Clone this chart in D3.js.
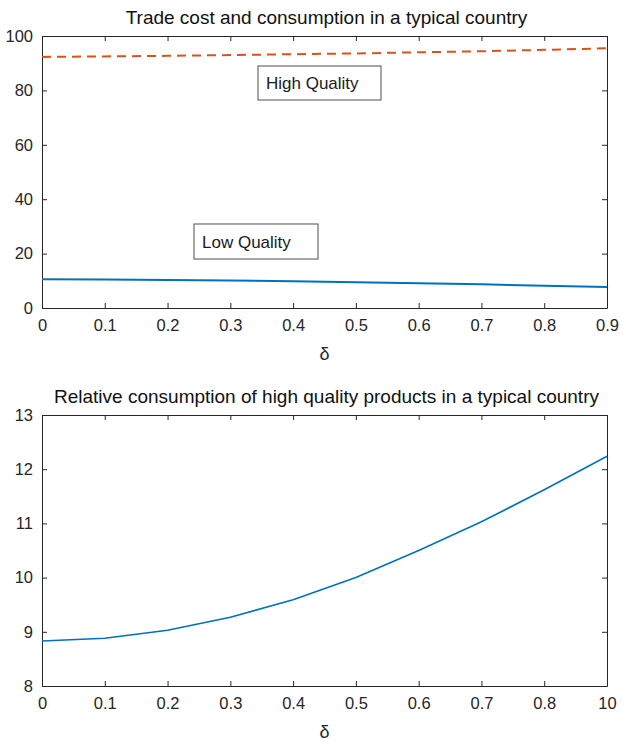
<!DOCTYPE html>
<html><head><meta charset="utf-8">
<script src="https://cdn.jsdelivr.net/npm/d3@7"></script>
<style>body{margin:0;background:#fff;} text{font-family:"Liberation Sans",Arial,sans-serif;}</style>
</head><body><svg id="c" width="626" height="744"></svg>
<script>
const delta = [0,0.1,0.2,0.3,0.4,0.5,0.6,0.7,0.8,0.9];
const highQuality = [92.3,92.5,92.7,93.0,93.3,93.6,94.0,94.4,94.9,95.5];
const lowQuality = [10.6,10.5,10.3,10.1,9.8,9.5,9.1,8.7,8.2,7.7];
const relative = [8.83,8.88,9.03,9.27,9.59,10.0,10.5,11.03,11.62,12.24];
const topYTicks = [0,20,40,60,80,100];
const botYTicks = [8,9,10,11,12,13];
const topXLabels = ["0","0.1","0.2","0.3","0.4","0.5","0.6","0.7","0.8","0.9"];
const botXLabels = ["0","0.1","0.2","0.3","0.4","0.5","0.6","0.7","0.8","10"];

const svg = d3.select("#c");
const axisCol = "#262626";
const L = 42, R = 607;

function panel(top, bottom, yDomain, yTicks, xLabels, title) {
  const x = d3.scaleLinear().domain([0,0.9]).range([L,R]);
  const y = d3.scaleLinear().domain(yDomain).range([bottom,top]);
  const g = svg.append("g");
  const tl = 5;
  const xb = d3.axisBottom(x).tickValues(delta).tickSizeInner(-tl).tickSizeOuter(0)
     .tickPadding(11).tickFormat((d,i)=>xLabels[i]);
  const gx = g.append("g").attr("transform",`translate(0,${bottom})`).call(xb);
  const xt = d3.axisTop(x).tickValues(delta).tickSizeInner(-tl).tickSizeOuter(0).tickFormat("");
  const gxt = g.append("g").attr("transform",`translate(0,${top})`).call(xt);
  const yl = d3.axisLeft(y).tickValues(yTicks).tickSizeInner(-tl).tickSizeOuter(0).tickPadding(9)
     .tickFormat(d3.format("d"));
  const gy = g.append("g").attr("transform",`translate(${L},0)`).call(yl);
  const yr = d3.axisRight(y).tickValues(yTicks).tickSizeInner(-tl).tickSizeOuter(0).tickFormat("");
  const gyr = g.append("g").attr("transform",`translate(${R},0)`).call(yr);
  [gx,gxt,gy,gyr].forEach(a=>{
    a.attr("font-size",null).attr("font-family",null);
    a.selectAll("path").attr("stroke",axisCol).attr("stroke-width",1);
    a.selectAll("line").attr("stroke",axisCol).attr("stroke-width",1);
    a.selectAll("text").attr("fill",axisCol).style("font-size","16.5px");
  });
  g.append("text").attr("x",(L+R)/2+2).attr("y",top-12).attr("text-anchor","middle")
    .style("font-size","19px").attr("fill","#111").text(title);
  g.append("text").attr("x",(L+R)/2).attr("y",bottom+52).attr("text-anchor","middle")
    .style("font-size","18px").attr("fill",axisCol).text("δ");
  return {g,x,y};
}

const p1 = panel(36, 308, [0,100], topYTicks, topXLabels, "Trade cost and consumption in a typical country");
const line1 = d3.line().x((d,i)=>p1.x(delta[i])).y(d=>p1.y(d));
p1.g.append("path").datum(highQuality).attr("d",line1).attr("fill","none")
  .attr("stroke","#D95319").attr("stroke-width",2).attr("stroke-dasharray","9,6");
p1.g.append("path").datum(lowQuality).attr("d",line1).attr("fill","none")
  .attr("stroke","#0072BD").attr("stroke-width",2);

function label(g, x0, y0, w, h, txt) {
  g.append("rect").attr("x",x0).attr("y",y0).attr("width",w).attr("height",h)
    .attr("fill","#fff").attr("stroke","#6b6b6b").attr("stroke-width",1.2);
  g.append("text").attr("x",x0+8).attr("y",y0+h/2+6).style("font-size","17px").attr("fill","#1a1a1a").text(txt);
}
label(p1.g, 258, 66, 123, 34, "High Quality");
label(p1.g, 194, 224, 124, 35, "Low Quality");

const p2 = panel(415, 686, [8,13], botYTicks, botXLabels, "Relative consumption of high quality products in a typical country");
const line2 = d3.line().x((d,i)=>p2.x(delta[i])).y(d=>p2.y(d));
p2.g.append("path").datum(relative).attr("d",line2).attr("fill","none")
  .attr("stroke","#0072BD").attr("stroke-width",1.6);
</script></body></html>
